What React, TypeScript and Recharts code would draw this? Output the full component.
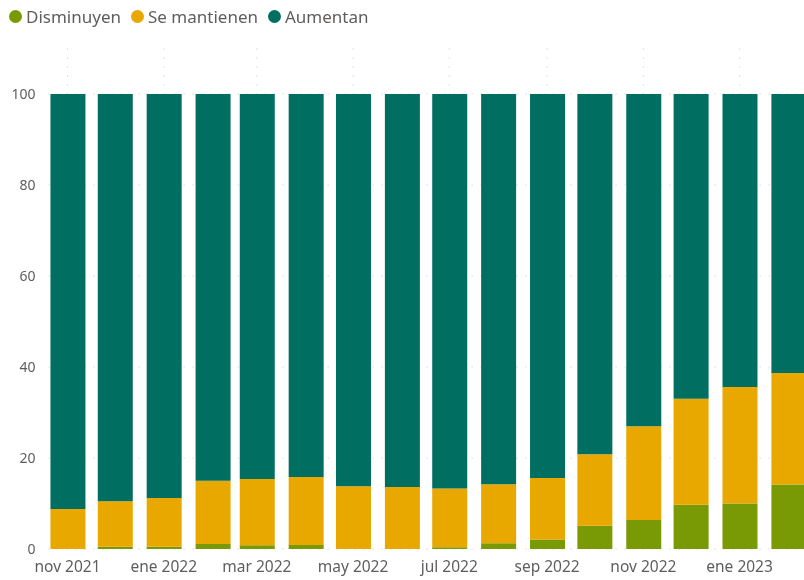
import { BarChart, Bar, XAxis, YAxis, CartesianGrid } from "recharts";

const months = [
  "2021-11-01", "2021-12-01", "2022-01-01", "2022-02-01",
  "2022-03-01", "2022-04-01", "2022-05-01", "2022-06-01",
  "2022-07-01", "2022-08-01", "2022-09-01", "2022-10-01",
  "2022-11-01", "2022-12-01", "2023-01-01", "2023-02-01",
];
const disminuyen = [0, 0.5, 0.5, 1.1, 0.8, 0.9, 0, 0, 0.4, 1.25, 2.1, 5.1, 6.4, 9.7, 10.0, 14.2];
const seMantienen = [8.8, 10.0, 10.7, 13.9, 14.6, 14.9, 13.8, 13.6, 12.9, 13.0, 13.5, 15.7, 20.6, 23.3, 25.6, 24.5];
const aumentan = disminuyen.map((d, i) => +(100 - d - seMantienen[i]).toFixed(2));

const tickDates = [
  "2021-11-01", "2022-01-01", "2022-03-01", "2022-05-01",
  "2022-07-01", "2022-09-01", "2022-11-01", "2023-01-01",
];
const tickLabels = [
  "nov 2021", "ene 2022", "mar 2022", "may 2022",
  "jul 2022", "sep 2022", "nov 2022", "ene 2023",
];
const yTicks = [0, 20, 40, 60, 80, 100];

const DAY = 86400000;
const start = Date.parse(months[0]);
const toDay = (s: string) => Math.round((Date.parse(s) - start) / DAY);

const data = months.map((m, i) => ({
  day: toDay(m),
  disminuyen: disminuyen[i],
  seMantienen: seMantienen[i],
  aumentan: aumentan[i],
}));
const xTicks = tickDates.map(toDay);

const series = [
  { key: "disminuyen", name: "Disminuyen", color: "#799A05" },
  { key: "seMantienen", name: "Se mantienen", color: "#E9A800" },
  { key: "aumentan", name: "Aumentan", color: "#006F62" },
];

const FONT = "'Segoe UI', 'Noto Sans', 'Open Sans', sans-serif";
const GRAY = "#605E5C";

// leyenda en HTML para no mover el área del gráfico
const LegendBox = () => (
  <div
    style={{
      position: "absolute",
      top: 5,
      left: 9,
      display: "flex",
      fontFamily: FONT,
      fontSize: 17,
      color: GRAY,
      zIndex: 2,
    }}
  >
    {series.map((s) => (
      <div key={s.key} style={{ display: "flex", alignItems: "center", marginRight: 10 }}>
        <span
          style={{
            width: 13,
            height: 13,
            borderRadius: "50%",
            background: s.color,
            display: "inline-block",
            marginRight: 4,
          }}
        />
        {s.name}
      </div>
    ))}
  </div>
);

export default function App() {
  return (
    <div
      style={{
        position: "fixed",
        left: 0,
        top: 0,
        width: 804,
        height: 580,
        overflow: "hidden",
      }}
    >
      <LegendBox />
      <BarChart
        width={830}
        height={580}
        data={data}
        margin={{ top: 48.5, right: 21, left: 8.6, bottom: 6 }}
      >
        <CartesianGrid stroke="#C8C6C4" strokeDasharray="1 8" syncWithTicks />
        <XAxis
          dataKey="day"
          type="number"
          domain={[-12, 470]}
          ticks={xTicks}
          tickFormatter={(v: number) => tickLabels[xTicks.indexOf(v)] ?? ""}
          axisLine={false}
          tickLine={false}
          tickSize={0}
          tickMargin={12}
          height={25}
          interval={0}
          tick={{ fontSize: 15.5, fill: GRAY, fontFamily: FONT }}
        />
        <YAxis
          domain={[0, 110]}
          ticks={yTicks}
          axisLine={false}
          tickLine={false}
          tickSize={0}
          tickMargin={13}
          width={40}
          tick={{ fontSize: 14, fill: GRAY, fontFamily: FONT }}
        />
        {series.map((s) => (
          <Bar
            key={s.key}
            dataKey={s.key}
            name={s.name}
            stackId="a"
            fill={s.color}
            barSize={35}
            isAnimationActive={false}
          />
        ))}
      </BarChart>
    </div>
  );
}
